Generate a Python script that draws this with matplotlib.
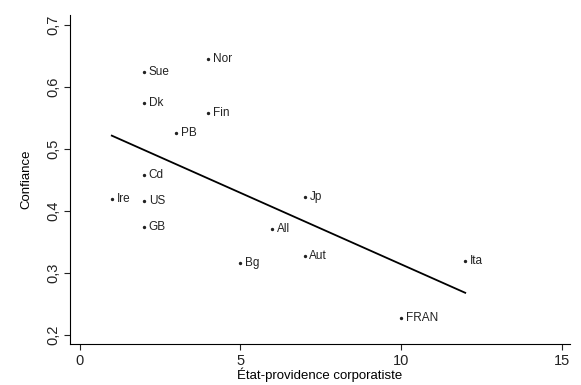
import matplotlib
matplotlib.use("Agg")
import matplotlib.pyplot as plt
import numpy as np
from matplotlib.ticker import FuncFormatter

plt.rcParams["font.family"] = ["Liberation Sans", "DejaVu Sans"]

# data
pays = ["Nor", "Sue", "Dk", "Fin", "PB", "Cd", "Ire", "US", "GB",
        "All", "Bg", "Jp", "Aut", "Ita", "FRAN"]
corpo = [4, 2, 2, 4, 3, 2, 1, 2, 2, 6, 5, 7, 7, 12, 10]
confiance = [0.644, 0.624, 0.574, 0.558, 0.526, 0.458, 0.419, 0.416, 0.374,
             0.371, 0.316, 0.423, 0.327, 0.319, 0.227]

x_ticks = [0, 5, 10, 15]
y_ticks = [0.2, 0.3, 0.4, 0.5, 0.6, 0.7]

fig = plt.figure(figsize=(5.81, 3.85), dpi=100)
ax = fig.add_axes([0.120, 0.1065, 0.861, 0.855])

x = np.array(corpo, dtype=float)
y = np.array(confiance)
ax.scatter(x, y, s=2, color="#222222", zorder=3)
for name, xi, yi in zip(pays, x, y):
    ax.annotate(name, (xi, yi), xytext=(3.5, 0), textcoords="offset points",
                va="center", ha="left", fontsize=8.5, color="#222222")

# OLS fit line over the observed range
b, a = np.polyfit(x, y, 1)
xs = np.array([x.min(), x.max()])
ax.plot(xs, a + b * xs, color="black", lw=1.3)

ax.set_xlim(-0.31, 15.26)
ax.set_ylim(0.1855, 0.716)
ax.set_xticks(x_ticks)
ax.set_yticks(y_ticks)
ax.yaxis.set_major_formatter(FuncFormatter(lambda v, p: f"{v:.1f}".replace(".", ",")))
for lbl in ax.get_yticklabels():
    lbl.set_rotation(90)
    lbl.set_va("center")
ax.tick_params(labelsize=10.5, colors="#222222", length=4, pad=3)
ax.spines["top"].set_visible(False)
ax.spines["right"].set_visible(False)
ax.set_xlabel("État-providence corporatiste", fontsize=9.5, labelpad=0)
ax.set_ylabel("Confiance", fontsize=9.5, labelpad=10)

fig.savefig("out.png", dpi=100)
